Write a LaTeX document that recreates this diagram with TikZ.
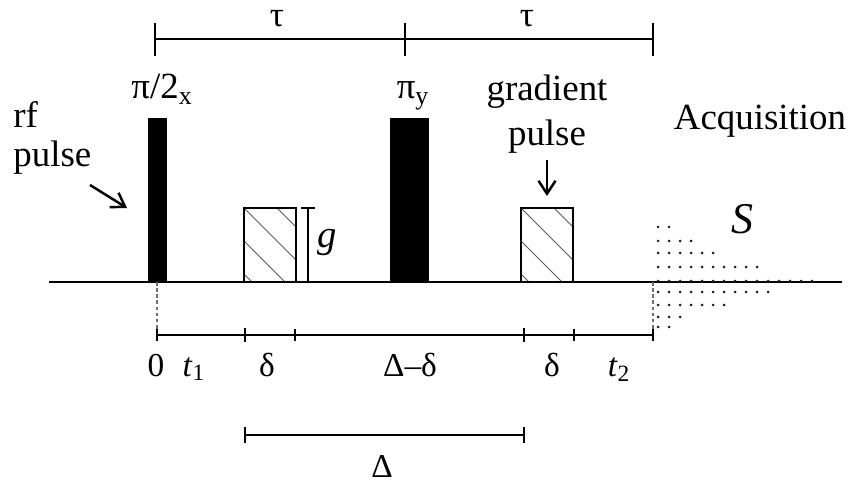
\documentclass[tikz,border=0pt]{standalone}
\usepackage{fontspec}
\setmainfont{Liberation Serif}
\usetikzlibrary{arrows.meta}
\begin{document}
\begin{tikzpicture}[x=0.2mm,y=-0.2mm]
			\definecolor{hachure}{RGB}{90,90,90}
			\definecolor{signal}{RGB}{30,30,30}
			\definecolor{pointille}{RGB}{110,110,110}
			\tikzset{
				grand/.style={font=\fontsize{21}{25}\selectfont, inner sep=0pt},
				petit/.style={font=\fontsize{19}{23}\selectfont, inner sep=0pt, anchor=base},
				barre/.style={line width=1.6pt},
				axe/.style={line width=0.7pt},
				fleche/.style={line width=1.4pt, -{Straight Barb[length=2.6mm, width=3.4mm, line width=1.4pt]}}
			}
			\useasboundingbox (0,0) rectangle (851,483);
			% echelle des tau
			\draw[barre] (155,39) -- (653,39);
			\foreach \x in {155,405,653} \draw[barre] (\x,23) -- (\x,56);
			\node[font=\fontsize{20}{24}\selectfont, inner sep=0pt, anchor=base] (tauA) at (277,27) {τ};
			\node[font=\fontsize{20}{24}\selectfont, inner sep=0pt, anchor=base] (tauB) at (527,27) {τ};
			% impulsions rf et gradients
			\draw[axe] (49,282) -- (842,282);
			\fill (148,118) rectangle (167,282);
			\fill (390,118) rectangle (429,282);
			\foreach \gx in {244,521} {
				\begin{scope}
					\clip (\gx,208) rectangle (\gx+52,282);
					\foreach \k in {-1,0,1,2}
						\draw[hachure, line width=0.5pt] (\gx,208+33*\k) -- (\gx+100,308+33*\k);
				\end{scope}
				\draw[line width=0.9pt] (\gx,208) rectangle (\gx+52,282);
			}
			\draw[line width=0.9pt] (308,208) -- (308,282);
			\draw[line width=0.9pt] (301,208) -- (315,208);
			\node[font=\fontsize{22}{26}\selectfont\itshape, inner sep=0pt] (g) at (327,243) {g};
			% acquisition
			\foreach \ry/\rx in {227/658, 241/698, 253/723, 267/765, 281/822, 292/773, 305/730, 317/690, 327/668}
				\foreach \dx in {658,669,...,\rx}
					\fill[signal] (\dx,\ry) circle (0.85pt);
			\node[font=\fontsize{25}{30}\selectfont\itshape, inner sep=0pt] (S) at (742,219) {S};
			% textes du haut
			\node[grand, anchor=base] (piA) at (162,99) {π/2\textsubscript{x}};
			\node[grand, anchor=base] (piB) at (413,99) {π\textsubscript{y}};
			\node[grand, anchor=base west] (rf) at (13,128) {rf};
			\node[grand, anchor=base west] (rfpulse) at (13,167) {pulse};
			\node[grand, anchor=base] (grad) at (547,101) {gradient};
			\node[grand, anchor=base] (gradpulse) at (547,146) {pulse};
			\node[grand, anchor=base] (acq) at (760,130) {Acquisition};
			\coordinate (rfA) at (90,185);
			\coordinate (rfB) at (127,208);
			\draw[fleche] (rfA) -- (rfB);
			\coordinate (gradB) at (547,196);
			\draw[fleche, line width=1.2pt] (gradpulse.south |- 0,160) -- (gradB);
			% axe des temps
			\draw[pointille, axe, dash pattern=on 2pt off 1.5pt] (157,282) -- (157,335);
			\draw[pointille, axe, dash pattern=on 2pt off 1.5pt] (653,282) -- (653,335);
			\draw[line width=0.9pt] (157,335) -- (653,335);
			\foreach \x in {245,524} \draw[barre] (\x,328) -- (\x,342);
			\foreach \x in {157,295,574,653} \draw[axe] (\x,329) -- (\x,341);
			\node[petit] (zero) at (156,376) {0};
			\node[petit] (tA) at (194,376) {\textit{t}\textsubscript{1}};
			\node[petit] (dA) at (267,376) {δ};
			\node[petit] (DmD) at (410,376) {Δ–δ};
			\node[petit] (dB) at (552,376) {δ};
			\node[petit] (tB) at (619,376) {\textit{t}\textsubscript{2}};
			% Delta
			\draw[barre] (245,435) -- (524,435);
			\foreach \x in {245,524} \draw[barre] (\x,427) -- (\x,443);
			\node[petit] (Delta) at (382,477) {Δ};
		\end{tikzpicture}
\end{document}
